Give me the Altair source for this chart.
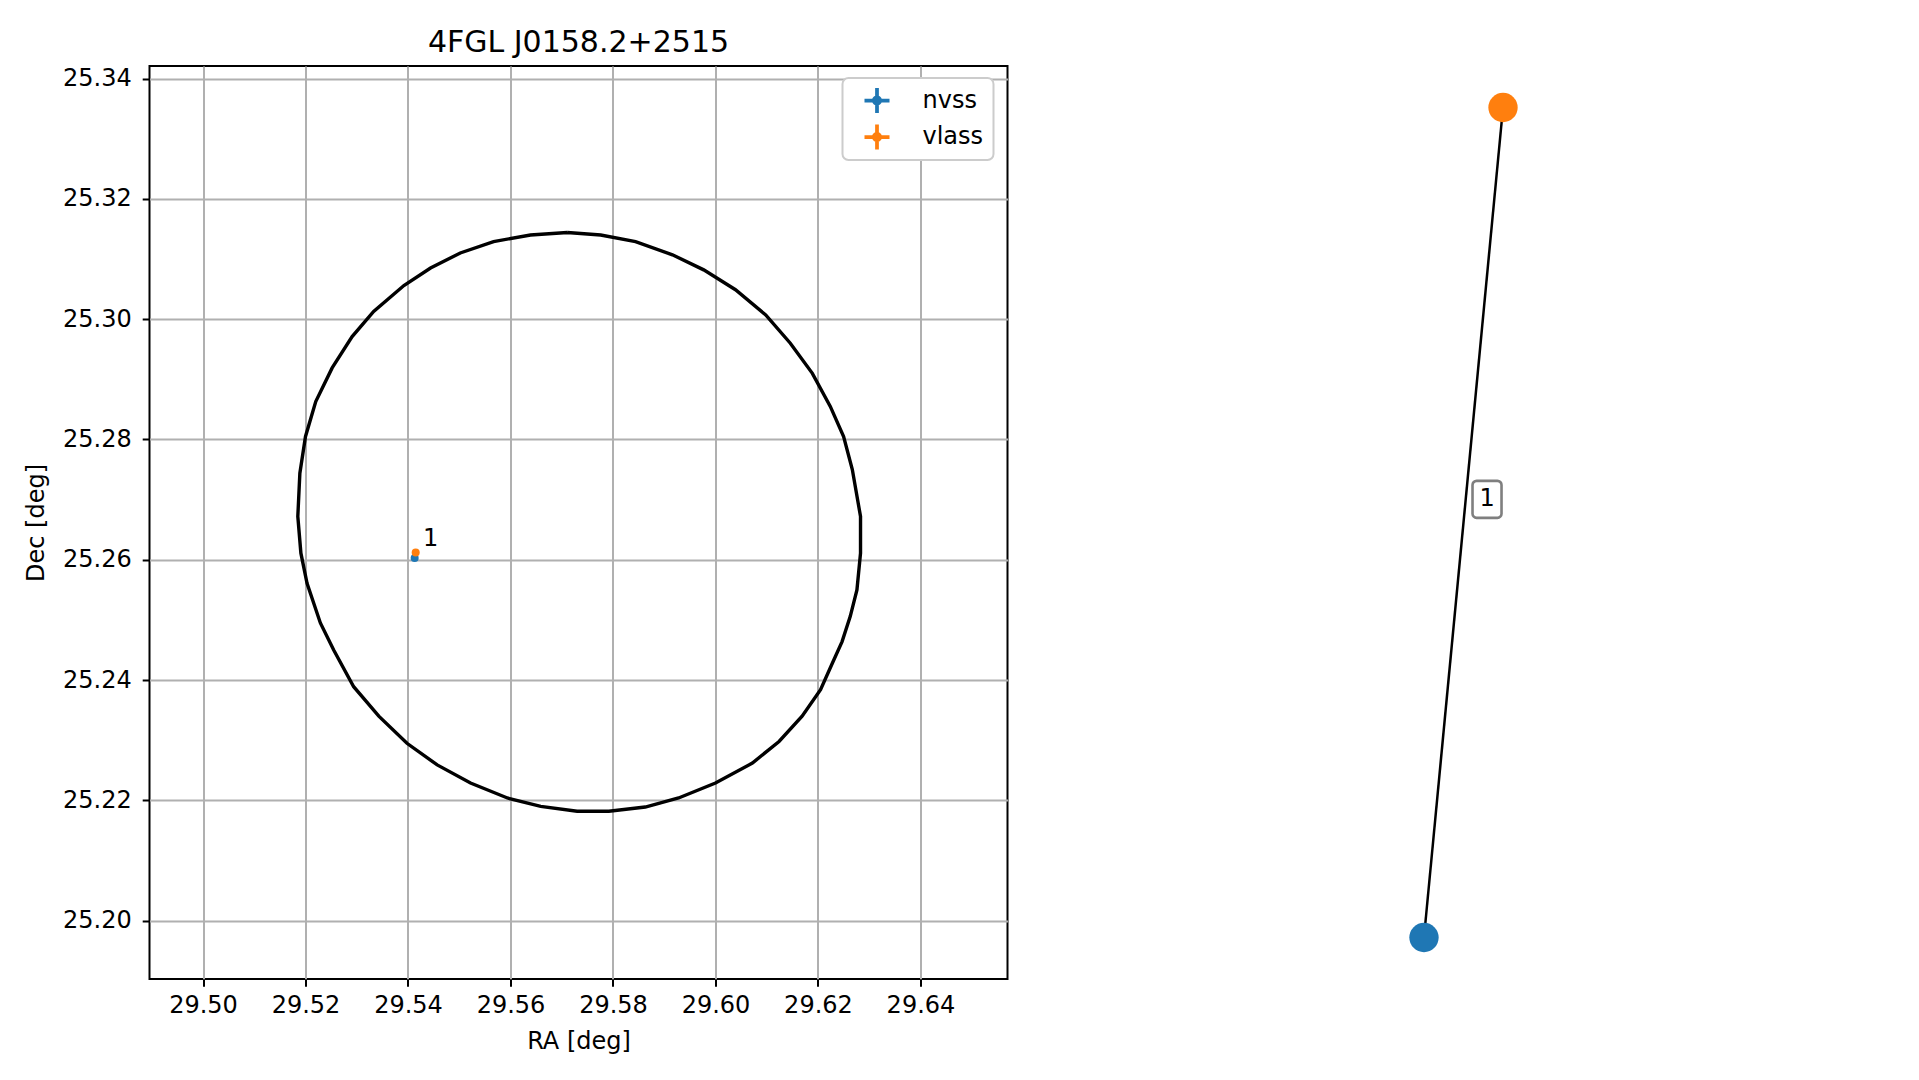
import altair as alt
import pandas as pd

# ---------------- data ----------------
TITLE = "4FGL J0158.2+2515"
X_TITLE = "RA [deg]"
Y_TITLE = "Dec [deg]"

# 4FGL error ellipse outline (RA, Dec vertices)
ellipse_ra = [29.5711, 29.5639, 29.5567, 29.5502, 29.5444, 29.5392, 29.5333, 29.5291, 29.5252, 29.5220,
              29.5200, 29.5189, 29.5185, 29.5191, 29.5203, 29.5229, 29.5255, 29.5294, 29.5343, 29.5398,
              29.5457, 29.5522, 29.5594, 29.5659, 29.5730, 29.5792, 29.5863, 29.5928, 29.6000, 29.6072,
              29.6124, 29.6169, 29.6205, 29.6228, 29.6247, 29.6263, 29.6276, 29.6283, 29.6283, 29.6267,
              29.6250, 29.6224, 29.6189, 29.6146, 29.6098, 29.6039, 29.5977, 29.5916, 29.5844, 29.5776,
              29.5711]
ellipse_dec = [25.3144, 25.3140, 25.3129, 25.3110, 25.3085, 25.3056, 25.3013, 25.2971, 25.2919, 25.2863,
               25.2805, 25.2744, 25.2672, 25.2611, 25.2561, 25.2495, 25.2450, 25.2389, 25.2340, 25.2295,
               25.2259, 25.2229, 25.2204, 25.2190, 25.2182, 25.2182, 25.2189, 25.2204, 25.2229, 25.2262,
               25.2298, 25.2340, 25.2384, 25.2428, 25.2464, 25.2506, 25.2550, 25.2611, 25.2672, 25.2750,
               25.2805, 25.2855, 25.2910, 25.2960, 25.3007, 25.3049, 25.3082, 25.3107, 25.3129, 25.3140,
               25.3144]

survey_names = ["nvss", "vlass"]
survey_colors = ["#1f77b4", "#ff7f0e"]
source_ra = [29.5413, 29.5415]
source_dec = [25.2603, 25.2612]
match_label = ["1"]

x_ticks = [29.50, 29.52, 29.54, 29.56, 29.58, 29.60, 29.62, 29.64]
y_ticks = [25.20, 25.22, 25.24, 25.26, 25.28, 25.30, 25.32, 25.34]
x_domain = [29.48956, 29.65698]
y_domain = [25.19031, 25.34209]

# graph panel (layout coordinates)
node_names = ["nvss", "vlass"]
node_x = [-0.0966, 0.0966]
node_y = [-1.0, 1.0]
edge_label = ["1"]
edge_label_x = [0.0575]
edge_label_y = [0.0558]
graph_x_domain = [-0.88, 0.88]
graph_y_domain = [-1.1, 1.1]

FONT = "DejaVu Sans"

# ---------------- tables ----------------
ell_df = pd.DataFrame({"ra": ellipse_ra, "dec": ellipse_dec, "i": list(range(len(ellipse_ra)))})
src_df = pd.DataFrame({"ra": source_ra, "dec": source_dec, "survey": survey_names})
lab_df = pd.DataFrame({"ra": [source_ra[1]], "dec": [source_dec[1]], "label": match_label})

node_df = pd.DataFrame({"gx": node_x, "gy": node_y, "name": node_names, "color": survey_colors})
edge_df = pd.DataFrame({"gx": [node_x[0]], "gy": [node_y[0]], "gx2": [node_x[1]], "gy2": [node_y[1]]})
elab_df = pd.DataFrame({"gx": edge_label_x, "gy": edge_label_y, "label": edge_label})

# ---------------- left panel ----------------
xenc = alt.X("ra:Q", scale=alt.Scale(domain=x_domain, nice=False, zero=False),
             axis=alt.Axis(title=X_TITLE, values=x_ticks, format=".2f", labelPadding=7.5,
                           titlePadding=11.7))
yenc = alt.Y("dec:Q", scale=alt.Scale(domain=y_domain, nice=False, zero=False),
             axis=alt.Axis(title=Y_TITLE, values=y_ticks, format=".2f", labelPadding=11,
                           titlePadding=14))

ellipse = alt.Chart(ell_df).mark_line(color="black", strokeWidth=3.4, clip=True).encode(
    x=xenc, y=yenc, order="i:Q")

ERRBAR = ("M-1,-0.15H1V0.15H-1Z M-0.15,-1H0.15V1H-0.15Z "
          "M0.4,0A0.4,0.4,0,1,1,-0.4,0A0.4,0.4,0,1,1,0.4,0Z")

points = alt.Chart(src_df).mark_point(filled=True, shape="circle", size=64, opacity=1).encode(
    x=xenc, y=yenc,
    color=alt.Color("survey:N",
                    scale=alt.Scale(domain=survey_names, range=survey_colors),
                    legend=alt.Legend(title=None, orient="none", legendX=693, legendY=12,
                                      symbolType=ERRBAR, symbolSize=625, symbolStrokeWidth=0,
                                      symbolOffset=12, labelOffset=33, labelFontSize=24,
                                      labelFont=FONT, labelColor="black",
                                      padding=10, rowPadding=11.5,
                                      strokeColor="#cccccc", fillColor="white", cornerRadius=6)),
)

labels = alt.Chart(lab_df).mark_text(align="left", baseline="alphabetic", dx=7.3, dy=-6.7,
                                      fontSize=24, font=FONT, color="black").encode(
    x=xenc, y=yenc, text="label:N")

left = alt.layer(ellipse, points, labels).properties(
    width=858, height=913,
    title=alt.TitleParams(TITLE, fontSize=30, font=FONT, fontWeight="normal", color="black",
                          baseline="alphabetic", offset=0, dy=16.4, anchor="middle"),
    view=alt.ViewBackground(stroke="black", strokeWidth=2),
)

# ---------------- right panel (graph) ----------------
gx = alt.X("gx:Q", scale=alt.Scale(domain=graph_x_domain, nice=False, zero=False), axis=None)
gy = alt.Y("gy:Q", scale=alt.Scale(domain=graph_y_domain, nice=False, zero=False), axis=None)

edges = alt.Chart(edge_df).mark_rule(color="black", strokeWidth=2.5).encode(
    x=gx, y=gy, x2="gx2:Q", y2="gy2:Q")

nodes = alt.Chart(node_df).mark_circle(size=860, opacity=1).encode(
    x=gx, y=gy, color=alt.Color("color:N", scale=None))

BOX = ("M-0.56,-1H0.56A0.22,0.22,0,0,1,0.784,-0.78V0.78A0.22,0.22,0,0,1,0.56,1"
       "H-0.56A0.22,0.22,0,0,1,-0.784,0.78V-0.78A0.22,0.22,0,0,1,-0.56,-1Z")
ebox = alt.Chart(elab_df).mark_point(shape=BOX, size=1369, filled=True, fill="white",
                                     stroke="#7f7f7f", strokeWidth=2.6, opacity=1).encode(x=gx, y=gy)
etext = alt.Chart(elab_df).mark_text(align="center", baseline="middle", fontSize=24, font=FONT,
                                     color="black").encode(x=gx, y=gy, text="label:N")

right = alt.layer(edges, nodes, ebox, etext).properties(
    width=720, height=913,
    view=alt.ViewBackground(stroke="transparent"),
)

chart = alt.hconcat(left, right, spacing=94).resolve_scale(color="independent").configure(
    font=FONT,
    background="white",
    padding={"left": 14.5, "top": 19, "right": 5, "bottom": 5},
).configure_axis(
    labelFont=FONT, labelFontSize=24, labelColor="black",
    titleFont=FONT, titleFontSize=24, titleFontWeight="normal", titleColor="black",
    tickColor="black", tickWidth=2, tickSize=7.3,
    grid=True, gridColor="#b0b0b0", gridWidth=2, domain=False,
    labelFlush=False, labelOverlap=False,
).configure_legend(
    strokeWidth=2,
)

chart.save("out.html", embed_options={"renderer": "svg", "actions": False})
